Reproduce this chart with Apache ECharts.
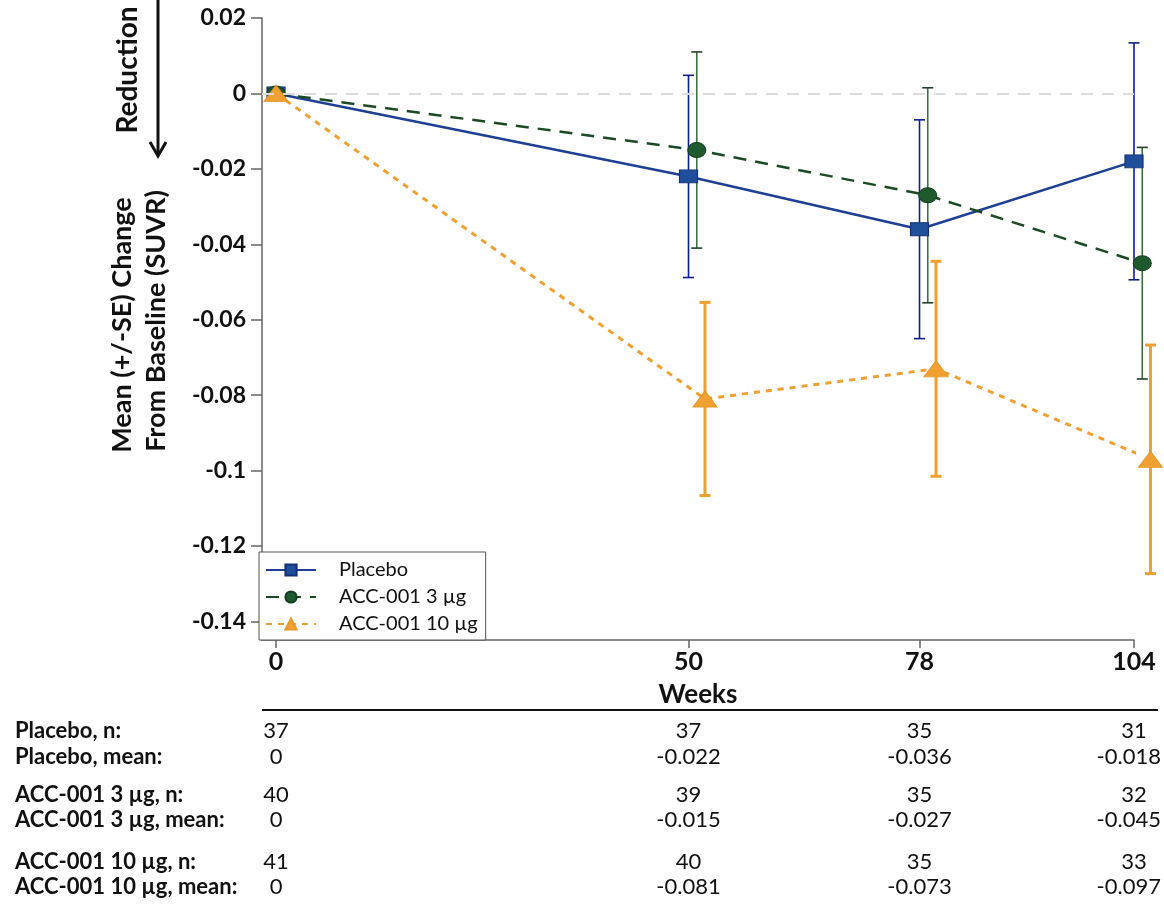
<!DOCTYPE html>
<html><head><meta charset="utf-8">
<script src="https://cdn.jsdelivr.net/npm/echarts@6/dist/echarts.min.js"></script>
<style>html,body{margin:0;padding:0;background:#fff}#c{width:1164px;height:909px}</style>
</head><body><div id="c"></div>
<script>
// ---- data ----
const weeks = [0, 50, 78, 104];
const seriesNames = ['Placebo', 'ACC-001 3 µg', 'ACC-001 10 µg'];
const placeboMean = [0, -0.022, -0.036, -0.018];
const placeboSE   = [0, 0.0268, 0.029, 0.0314];
const acc3Mean    = [0, -0.015, -0.027, -0.045];
const acc3SE      = [0, 0.026, 0.0285, 0.0307];
const acc10Mean   = [0, -0.081, -0.073, -0.097];
const acc10SE     = [0, 0.0256, 0.0285, 0.0303];
const placeboN = [37, 37, 35, 31];
const acc3N    = [40, 39, 35, 32];
const acc10N   = [41, 40, 35, 33];
const yTicks = [0.02, 0, -0.02, -0.04, -0.06, -0.08, -0.1, -0.12, -0.14];
const xTicks = [0, 50, 78, 104];
const rowLabels = ['Placebo, n:', 'Placebo, mean:', 'ACC-001 3 µg, n:', 'ACC-001 3 µg, mean:', 'ACC-001 10 µg, n:', 'ACC-001 10 µg, mean:'];
const rowValues = [placeboN, placeboMean, acc3N, acc3Mean, acc10N, acc10Mean];

// ---- style ----
const FONT = 'Lato';
const jitter = [0, 1, 2]; // horizontal dodge in weeks (not applied at baseline)
const colors = {
  p: {line: '#1f3f95', fill: '#1f4e9a', border: '#15307a', bar: '#0c1f8c', cap: '#0c1f8c'},
  a3: {line: '#1b4a24', fill: '#1e5a2e', border: '#163f20', bar: '#3f7040', cap: '#23402a'},
  a10: {line: '#f0a030', fill: '#f0a030', border: '#e8982a', bar: '#f0a030', cap: '#f0a030'}
};

function pts(mean, off) { return weeks.map((w, i) => [w + (w ? off : 0), mean[i]]); }

function errSeries(name, mean, se, off, c, width, extra) {
  const s = {
    type: 'custom', name: name + ' SE', z: 1, silent: true, clip: false,
    data: weeks.map((w, i) => [w + (w ? off : 0), mean[i] - se[i], mean[i] + se[i]]).filter((d, i) => se[i] > 0),
    encode: {x: 0, y: [1, 2]},
    renderItem(params, api) {
      const x = api.value(0);
      const lo = api.coord([x, api.value(1)]);
      const hi = api.coord([x, api.value(2)]);
      const h = 5.5;
      return {type: 'group', children: [
        {type: 'line', shape: {x1: lo[0], y1: lo[1], x2: hi[0], y2: hi[1]}, style: {stroke: c.bar, lineWidth: width}},
        {type: 'line', shape: {x1: lo[0] - h, y1: lo[1], x2: lo[0] + h, y2: lo[1]}, style: {stroke: c.cap, lineWidth: width}},
        {type: 'line', shape: {x1: hi[0] - h, y1: hi[1], x2: hi[0] + h, y2: hi[1]}, style: {stroke: c.cap, lineWidth: width}}
      ]};
    }
  };
  return Object.assign(s, extra || {});
}

const chart = echarts.init(document.getElementById('c'), null, {renderer: 'canvas'});
const option = {
  animation: false,
  backgroundColor: '#fff',
  textStyle: {fontFamily: FONT},
  grid: {left: 262, top: 18, width: 872, height: 622, containLabel: false},
  xAxis: {
    type: 'value', min: -1.7, max: 104,
    name: 'Weeks', nameLocation: 'middle', nameGap: 42,
    nameTextStyle: {fontSize: 26, fontWeight: 'bold', color: '#111', fontFamily: FONT},
    axisLine: {show: true, onZero: false, lineStyle: {color: '#666', width: 1.5}},
    axisTick: {show: true, customValues: xTicks, length: 8, lineStyle: {color: '#666', width: 1.5}},
    axisLabel: {customValues: xTicks, fontSize: 25, fontWeight: 'bold', color: '#111', margin: 9, fontFamily: FONT},
    splitLine: {show: false},
    minorSplitLine: {show: false}
  },
  yAxis: {
    type: 'value', min: -0.1449, max: 0.02,
    axisLine: {show: true, onZero: false, lineStyle: {color: '#666', width: 1.5}},
    axisTick: {show: true, customValues: yTicks, length: 11, lineStyle: {color: '#666', width: 1.5}},
    axisLabel: {customValues: yTicks, fontSize: 23, fontWeight: 'bold', color: '#111', margin: 16, fontFamily: FONT,
      formatter: v => String(parseFloat(Number(v).toFixed(2)))},
    splitLine: {show: false},
    minorSplitLine: {show: false}
  },
  legend: {
    data: seriesNames, orient: 'vertical', left: 259, top: 552,
    itemWidth: 50, itemHeight: 14, itemGap: 7,
    borderColor: '#555', borderWidth: 1, backgroundColor: '#fff', padding: [8, 8, 6, 6],
    selectedMode: false,
    textStyle: {fontSize: 20, color: '#111', fontFamily: FONT, padding: [0, 0, 0, 18]}
  },
  series: [
    errSeries('Placebo', placeboMean, placeboSE, jitter[0], colors.p, 1.6, {
      markLine: {silent: true, symbol: 'none', label: {show: false},
        lineStyle: {color: '#dcdcdc', type: [12, 9], width: 2}, data: [{yAxis: 0}]}
    }),
    errSeries('ACC-001 3 µg', acc3Mean, acc3SE, jitter[1], colors.a3, 1.6),
    errSeries('ACC-001 10 µg', acc10Mean, acc10SE, jitter[2], colors.a10, 3),
    {
      type: 'line', name: seriesNames[0], data: pts(placeboMean, jitter[0]), z: 3, clip: false,
      symbol: 'rect', symbolSize: [18, 13],
      lineStyle: {color: colors.p.line, width: 2.5},
      itemStyle: {color: colors.p.fill, borderColor: colors.p.border, borderWidth: 1}
    },
    {
      type: 'line', name: seriesNames[1], data: pts(acc3Mean, jitter[1]), z: 3, clip: false,
      symbol: 'circle', symbolSize: [18, 15],
      lineStyle: {color: colors.a3.line, width: 2.5, type: [13, 9]},
      itemStyle: {color: colors.a3.fill, borderColor: colors.a3.border, borderWidth: 1}
    },
    {
      type: 'line', name: seriesNames[2], data: pts(acc10Mean, jitter[2]), z: 3, clip: false,
      symbol: 'triangle', symbolSize: [24, 16],
      lineStyle: {color: colors.a10.line, width: 3, type: [6, 6]},
      itemStyle: {color: colors.a10.fill, borderColor: colors.a10.border, borderWidth: 1}
    }
  ]
};
chart.setOption(option);

// ---- texts outside the plot, table under the x axis ----
const rowsY = [731, 757, 795, 820, 862, 887];
const measureCtx = document.createElement('canvas').getContext('2d');
const valueFont = '22px ' + FONT;
measureCtx.font = valueFont;
const RIGHT_LIMIT = 1161;
const graphics = [
  {type: 'text', x: 128, y: 70, rotation: Math.PI / 2,
    style: {text: 'Reduction', font: 'bold 28px ' + FONT, fill: '#111', align: 'center', verticalAlign: 'middle'}},
  {type: 'line', shape: {x1: 158, y1: 0, x2: 158, y2: 155}, style: {stroke: '#111', lineWidth: 3}},
  {type: 'polyline', shape: {points: [[150, 142], [158, 156], [166, 142]]}, style: {stroke: '#111', lineWidth: 3, fill: null}},
  {type: 'text', x: 122, y: 325, rotation: Math.PI / 2,
    style: {text: 'Mean (+/-SE) Change', font: 'bold 27px ' + FONT, fill: '#111', align: 'center', verticalAlign: 'middle'}},
  {type: 'text', x: 156, y: 321, rotation: Math.PI / 2,
    style: {text: 'From Baseline (SUVR)', font: 'bold 27px ' + FONT, fill: '#111', align: 'center', verticalAlign: 'middle'}},
  {type: 'line', shape: {x1: 262, y1: 710, x2: 1158, y2: 710}, style: {stroke: '#111', lineWidth: 2}}
];
rowLabels.forEach((lab, r) => {
  graphics.push({type: 'text', x: 15, y: rowsY[r],
    style: {text: lab, font: 'bold 22px ' + FONT, fill: '#111', align: 'left', verticalAlign: 'middle'}});
  weeks.forEach((w, i) => {
    const txt = String(rowValues[r][i]);
    let px = chart.convertToPixel({xAxisIndex: 0}, w);
    const half = measureCtx.measureText(txt).width / 2;
    if (px + half > RIGHT_LIMIT) px = RIGHT_LIMIT - half;
    graphics.push({type: 'text', x: px, y: rowsY[r],
      style: {text: txt, font: valueFont, fill: '#111', align: 'center', verticalAlign: 'middle'}});
  });
});
chart.setOption({graphic: graphics});
</script>
</body></html>
